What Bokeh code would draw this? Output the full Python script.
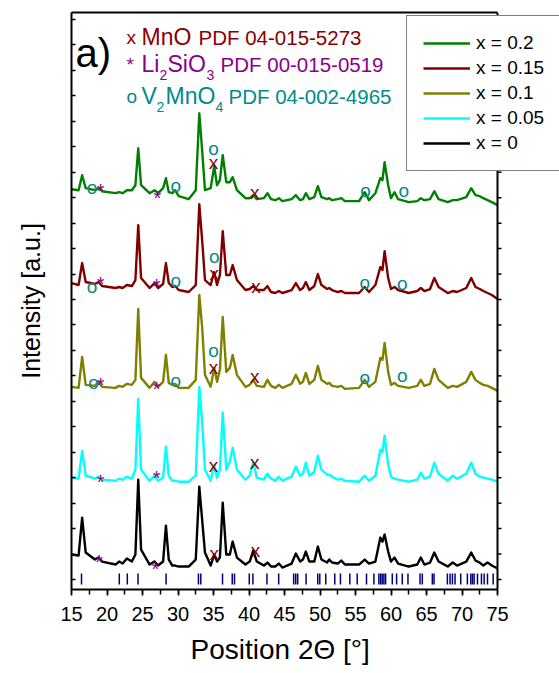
from bokeh.plotting import figure
from bokeh.models import (Range1d, FixedTicker, LinearAxis, Legend, LegendItem,
                          CustomJSTickFormatter, ColumnDataSource, Span, Title)
from bokeh.core.properties import value
from bokeh.embed import file_html
from bokeh.resources import INLINE

FONT = "Liberation Sans"

# ---------------- data (2theta in degrees, intensity in a.u., stacked) -------------
two_theta = [
    15.0, 16.0, 16.5, 17.0, 18.3, 18.8, 19.3, 21.2, 21.7, 22.2,
    22.8, 23.5, 24.0, 24.4, 24.8, 26.0, 26.7, 27.2, 27.9, 28.3,
    28.7, 29.2, 29.6, 30.1, 31.5, 32.5, 33.0, 33.4, 33.8, 34.6,
    35.1, 35.5, 35.9, 36.3, 36.8, 37.3, 37.7, 38.3, 39.5, 40.1,
    40.6, 41.1, 42.1, 42.6, 43.1, 43.7, 44.2, 44.7, 46.0, 46.6,
    47.2, 47.6, 48.0, 48.5, 49.2, 49.7, 50.2, 51.0, 51.3, 51.7,
    52.5, 53.0, 53.5, 55.5, 56.3, 56.9, 57.8, 58.5, 58.8, 59.1,
    59.6, 60.0, 60.5, 61.0, 62.5, 63.7, 64.2, 64.7, 65.5, 66.1,
    66.7, 68.0, 68.7, 69.3, 70.6, 71.3, 71.9, 72.5, 73.0, 73.6,
    74.2, 75.0]

i_x0 = [
    45, 44, 82, 47, 40, 42, 38, 35, 38, 36,
    41, 38, 45, 120, 50, 35, 38, 34, 38, 74,
    40, 34, 34, 33, 33, 40, 113, 80, 47, 34,
    45, 38, 42, 97, 45, 45, 58, 42, 35, 38,
    49, 38, 34, 37, 33, 33, 36, 32, 36, 46,
    38, 40, 48, 38, 38, 53, 40, 37, 40, 37,
    36, 39, 35, 35, 40, 36, 38, 62, 58, 65,
    48, 38, 42, 36, 33, 35, 42, 35, 37, 47,
    38, 33, 37, 34, 38, 47, 39, 37, 34, 37,
    34, 31]

i_x005 = [
    122, 121, 149, 124, 121, 123, 120, 119, 121, 120,
    123, 121, 130, 201, 130, 119, 124, 119, 122, 153,
    124, 119, 119, 118, 118, 124, 213, 178, 130, 119,
    135, 122, 130, 187, 130, 138, 152, 130, 120, 124,
    138, 122, 120, 126, 121, 119, 123, 119, 123, 133,
    124, 126, 137, 124, 128, 144, 130, 125, 125, 123,
    120, 121, 119, 118, 124, 119, 124, 150, 148, 164,
    135, 123, 121, 120, 118, 120, 127, 121, 123, 137,
    126, 119, 124, 121, 126, 137, 126, 123, 122, 121,
    120, 118]

i_x01 = [
    213, 212, 243, 215, 214, 218, 213, 212, 214, 213,
    216, 215, 220, 291, 222, 212, 218, 213, 218, 245,
    217, 215, 216, 212, 212, 220, 305, 273, 225, 213,
    232, 218, 230, 283, 228, 232, 245, 225, 213, 215,
    220, 214, 213, 220, 214, 212, 215, 212, 216, 225,
    216, 218, 227, 216, 220, 234, 220, 216, 217, 214,
    213, 214, 211, 212, 220, 213, 218, 242, 240, 257,
    228, 215, 217, 214, 212, 214, 220, 214, 216, 231,
    220, 212, 214, 213, 218, 228, 220, 217, 215, 214,
    212, 209]

i_x015 = [
    317, 315, 337, 318, 316, 318, 314, 312, 313, 312,
    315, 314, 320, 375, 322, 312, 317, 312, 316, 337,
    317, 313, 314, 310, 308, 315, 396, 360, 320, 315,
    328, 315, 325, 369, 325, 325, 335, 320, 310, 311,
    314, 310, 310, 314, 308, 307, 309, 307, 310, 317,
    310, 312, 318, 310, 314, 326, 315, 311, 312, 310,
    308, 309, 307, 307, 313, 308, 315, 333, 330, 349,
    322, 311, 313, 310, 307, 309, 312, 309, 311, 322,
    313, 307, 309, 308, 312, 322, 313, 311, 309, 307,
    305, 301]

i_x02 = [
    411, 410, 425, 412, 410, 412, 409, 407, 408, 407,
    410, 410, 415, 452, 415, 407, 410, 407, 412, 422,
    408, 407, 410, 404, 401, 410, 487, 450, 410, 412,
    434, 415, 420, 445, 418, 418, 423, 410, 402, 402,
    405, 401, 402, 407, 401, 400, 402, 399, 401, 405,
    400, 401, 407, 401, 403, 414, 403, 401, 402, 400,
    401, 402, 399, 399, 408, 400, 407, 422, 420, 438,
    415, 402, 408, 401, 398, 399, 402, 400, 401, 409,
    401, 398, 400, 400, 403, 412, 405, 404, 402, 400,
    398, 395]

series_labels = ["x = 0.2", "x = 0.15", "x = 0.1", "x = 0.05", "x = 0"]
series_values = [i_x02, i_x015, i_x01, i_x005, i_x0]
series_colors = ["#008000", "#800000", "#808000", "#00FFFF", "#000000"]

# reference pattern line positions (2theta)
ref_positions = [16.41, 21.73, 22.86, 24.37, 28.32, 32.88, 33.21, 36.27, 37.64, 37.96,
                 40.04, 40.55, 42.53, 44.18, 46.29, 46.58, 46.86, 48.04, 49.68, 49.97,
                 50.81, 52.08, 52.88, 54.20, 55.24, 56.55, 57.59, 58.29, 58.53, 58.76,
                 59.00, 59.24, 60.18, 60.79, 61.59, 62.39, 64.09, 64.41, 65.82, 66.06,
                 67.94, 68.32, 68.65, 69.02, 69.82, 70.76, 71.24, 71.47, 71.71, 72.18,
                 72.74, 73.12, 73.59, 74.39]

# phase markers (2theta, baseline of marker label)
mno_theta = [35.0, 40.8, 35.1, 41.0, 35.0, 40.8, 35.0, 40.8, 35.1, 40.9]
mno_level = [438, 408, 327, 314, 232, 223, 134, 137, 46, 49]
li_theta = [19.1, 27.1, 19.1, 27.0, 19.1, 27.0, 19.1, 27.0, 18.9, 26.8]
li_level = [409, 402, 316, 314, 215, 211, 118, 122, 38, 31]
v_theta = [17.9, 29.7, 35.0, 56.4, 61.8,
           17.9, 29.7, 35.1, 56.3, 61.6,
           18.1, 29.7, 35.0, 56.3, 61.6]
v_level = [413, 415, 452, 410, 410,
           314, 320, 344, 318, 317,
           217, 219, 249, 222, 224]

X_MIN, X_MAX = 15, 75
x_major = [15, 20, 25, 30, 35, 40, 45, 50, 55, 60, 65, 70, 75]
x_minor = [15 + 2.5 * k for k in range(25)]
y_ticks = [20 + 25.5 * k for k in range(23)]

MNO_C = "#8B0000"
LI_C = "#8B008B"
V_C = "#008B8B"

# frame reaches the right window edge so that the legend box can overhang the axes
X_VIEW_END = X_MAX + 62 / 7.1

# ---------------- figure ----------------
p = figure(width=559, height=673, output_backend="svg", toolbar_location=None,
           x_range=Range1d(X_MIN, X_VIEW_END), y_range=Range1d(10, 588),
           min_border_left=71, min_border_right=0, min_border_top=12,
           min_border_bottom=83, y_axis_label="Intensity [a.u.]")
p.grid.visible = False
p.outline_line_color = None
p.background_fill_color = "white"
p.border_fill_color = "white"

xa = p.xaxis[0]
xa.bounds = (X_MIN, X_MAX)
xa.ticker = FixedTicker(ticks=x_major, minor_ticks=x_minor)
xa.major_tick_in = 0
xa.major_tick_out = 6
xa.minor_tick_in = 0
xa.minor_tick_out = 5
xa.axis_line_width = 2
xa.major_tick_line_width = 1.5
xa.minor_tick_line_width = 1.5
xa.major_label_text_font = FONT
xa.major_label_text_font_size = "20px"
xa.major_label_text_color = "black"
xa.major_label_standoff = 11

p.add_layout(Title(text="Position 2Θ [°]", text_font=FONT, text_font_size="28px",
                   text_font_style="normal", text_color="black", align="left",
                   offset=119, standoff=17), "below")

ya = p.yaxis[0]
ya.ticker = FixedTicker(ticks=y_ticks)
ya.formatter = CustomJSTickFormatter(code="return ''")
ya.major_tick_in = 4
ya.major_tick_out = 0
ya.minor_tick_in = 0
ya.minor_tick_out = 0
ya.axis_line_width = 2
ya.major_tick_line_width = 1.5
ya.major_label_standoff = 0
ya.axis_label_text_font = FONT
ya.axis_label_text_font_size = "25px"
ya.axis_label_text_font_style = "normal"
ya.axis_label_text_color = "black"
ya.axis_label_standoff = 27

ta = LinearAxis(bounds=(X_MIN, X_MAX), ticker=FixedTicker(ticks=[]),
                formatter=CustomJSTickFormatter(code="return ''"),
                major_tick_in=0, major_tick_out=0, minor_tick_in=0, minor_tick_out=0,
                axis_line_width=2, major_label_standoff=0)
p.add_layout(ta, "above")

# right spine with outward ticks
p.add_layout(Span(location=X_MAX, dimension="height", line_color="black", line_width=2))
p.segment(x0=[X_MAX] * len(y_ticks), x1=[X_MAX + 4 / 7.1] * len(y_ticks),
          y0=y_ticks, y1=y_ticks, line_color="black", line_width=1.5)

# reference lines
p.segment(x0=ref_positions, x1=ref_positions,
          y0=[15] * len(ref_positions), y1=[26] * len(ref_positions),
          line_color="#000080", line_width=1.5)

# traces
items = {}
for lbl, vals, col in reversed(list(zip(series_labels, series_values, series_colors))):
    src = ColumnDataSource(data=dict(x=two_theta, y=vals))
    r = p.line("x", "y", source=src, line_color=col, line_width=2.4, line_join="round")
    items[lbl] = r

# phase markers
p.text(x=mno_theta, y=mno_level, text=["x"] * len(mno_theta), text_color=MNO_C,
       text_font=value(FONT), text_font_size="19px", text_align="center",
       text_baseline="alphabetic")
p.text(x=li_theta, y=li_level, text=["*"] * len(li_theta), text_color=LI_C,
       text_font=value(FONT), text_font_size="20px", text_align="center",
       text_baseline="alphabetic")
p.text(x=v_theta, y=v_level, text=["o"] * len(v_theta), text_color=V_C,
       text_font=value(FONT), text_font_size="19px", text_align="center",
       text_baseline="alphabetic")


def put(x, y, txt, color, size):
    p.text(x=[x], y=[y], text=[txt], text_color=color, text_font=value(FONT),
           text_font_size=size, text_align="left", text_baseline="alphabetic")


put(15.56, 547, "a)", "black", "40px")
# phase legend, line 1
put(22.75, 563, "x", MNO_C, "19px")
put(24.86, 563, "MnO", MNO_C, "23px")
put(32.89, 563, "PDF 04-015-5273", MNO_C, "20.5px")
# line 2
put(22.75, 536, "*", LI_C, "19px")
put(24.86, 536, "Li", LI_C, "23px")
put(27.39, 525, "2", LI_C, "14px")
put(28.52, 536, "SiO", LI_C, "23px")
put(34.01, 525, "3", LI_C, "14px")
put(35.99, 536, "PDF 00-015-0519", LI_C, "20.5px")
# line 3
put(22.75, 504, "o", V_C, "19px")
put(24.86, 504, "V", V_C, "23px")
put(26.97, 493, "2", V_C, "14px")
put(28.24, 504, "MnO", V_C, "23px")
put(35.28, 493, "4", V_C, "14px")
put(37.11, 504, "PDF 04-002-4965", V_C, "20.5px")

legend = Legend(items=[LegendItem(label=l, renderers=[items[l]]) for l in series_labels],
                location=(335, 418), border_line_color="black", border_line_width=1,
                background_fill_color="white", background_fill_alpha=1.0,
                label_text_font=FONT, label_text_font_size="19px",
                label_text_color="black",
                glyph_width=47, glyph_height=22, label_height=22, label_standoff=6,
                spacing=3, padding=16, margin=0)
p.add_layout(legend)

open("out.html", "w").write(file_html(p, INLINE))
